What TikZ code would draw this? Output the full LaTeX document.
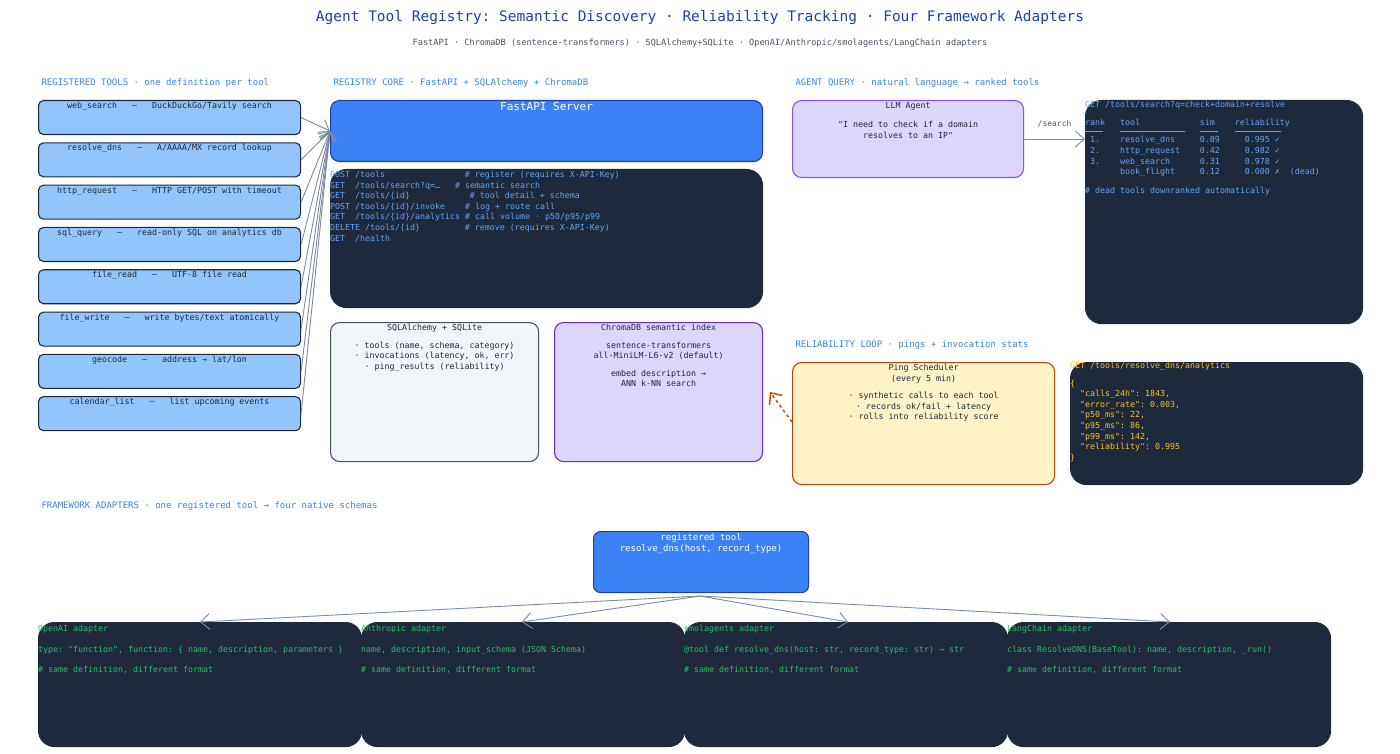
\documentclass[tikz,border=0pt]{standalone}
\usepackage{fontspec}
\setmonofont{DejaVu Sans Mono}
\usepackage{tikz}
\usetikzlibrary{positioning,arrows.meta}
\definecolor{ink}{HTML}{1E293B}
\definecolor{head}{HTML}{3B82F6}
\definecolor{navy}{HTML}{1E40AF}
\definecolor{toolfill}{HTML}{93C5FD}
\definecolor{coreblue}{HTML}{3B82F6}
\definecolor{lilac}{HTML}{DDD6FE}
\definecolor{violet}{HTML}{6D28D9}
\definecolor{slate}{HTML}{475569}
\definecolor{paper}{HTML}{F1F5F9}
\definecolor{cream}{HTML}{FEF3C7}
\definecolor{rust}{HTML}{C2410C}
\definecolor{codeblue}{HTML}{60A5FA}
\definecolor{amber}{HTML}{FBBF24}
\definecolor{mint}{HTML}{22C55E}
\definecolor{wire}{HTML}{7C8BA1}
\begin{document}
\begin{tikzpicture}[x=1pt,y=-1pt,font=\ttfamily\fontsize{8.3}{10.6}\selectfont,
                          box/.style={draw, rounded corners=9pt, line width=1.1pt, anchor=north west, inner sep=0pt},
                          toolnode/.style={box, fill=toolfill, draw=ink, rounded corners=5pt, minimum width=262pt, minimum height=34pt},
                          codebox/.style={box, fill=ink, draw=ink, rounded corners=16pt},
                          caption/.style={anchor=north, align=center, inner sep=2pt},
                          code/.style={anchor=north west, align=left, inner sep=0pt},
                          section/.style={anchor=west, text=head, font=\ttfamily\fontsize{9}{11}\selectfont},
                          link/.style={draw=wire, line width=0.9pt, -{Straight Barb[length=9pt,width=16pt]}},
                      ]
                      \useasboundingbox (0,0) rectangle (1400,754);
                      \fill[white] (0,0) rectangle (1400,754);
                      %Titles
                      \node[text=navy, font=\ttfamily\fontsize{14.5}{17}\selectfont] (title) at (700,18) {Agent Tool Registry: Semantic Discovery · Reliability Tracking · Four Framework Adapters};
                      \node[text=slate, font=\ttfamily\fontsize{8.6}{10}\selectfont] (subtitle) at (700,43) {FastAPI · ChromaDB (sentence-transformers) · SQLAlchemy+SQLite · OpenAI/Anthropic/smolagents/LangChain adapters};
                      \node[section] (sec_tools) at (38,83)  {REGISTERED TOOLS · one definition per tool};
                      \node[section] (sec_core)  at (330,83) {REGISTRY CORE · FastAPI + SQLAlchemy + ChromaDB};
                      \node[section] (sec_query) at (792,83) {AGENT QUERY · natural language → ranked tools};
                      \node[section] (sec_loop)  at (792,345) {RELIABILITY LOOP · pings + invocation stats};
                      \node[section] (sec_adapt) at (38,506) {FRAMEWORK ADAPTERS · one registered tool → four native schemas};

                      %Core
                      \node[box, fill=coreblue, draw=navy, minimum width=432pt, minimum height=61pt] (fastapi) at (330,100) {};
                      \node[caption, text=white, font=\ttfamily\fontsize{11}{13}\selectfont] at (fastapi.north) {FastAPI Server};
                      \node[codebox, minimum width=432pt, minimum height=138pt] (routes) at (330,169) {};
                      \node[code, text=codeblue] (routes_txt) at (330,171) {POST /tools\hspace{9.6em}\# register (requires X-API-Key)\\GET~~/tools/search?q=…~~~\# semantic search\\GET~~/tools/\{id\}\hspace{7.2em}\# tool detail + schema\\POST /tools/\{id\}/invoke~~~~\# log + route call\\GET~~/tools/\{id\}/analytics \# call volume · p50/p95/p99\\DELETE /tools/\{id\}\hspace{5.4em}\# remove (requires X-API-Key)\\GET~~/health};
                      \node[box, fill=paper, draw=slate, minimum width=208pt, minimum height=139pt] (sqlite) at (330,322) {};
                      \node[caption, text=ink] at (sqlite.north) {SQLAlchemy + SQLite\\[7pt]· tools (name, schema, category)\\· invocations (latency, ok, err)\\· ping\_results (reliability)};
                      \node[box, fill=lilac, draw=violet, minimum width=208pt, minimum height=139pt] (chroma) at (554,322) {};
                      \node[caption, text=ink] at (chroma.north) {ChromaDB semantic index\\[7pt]sentence-transformers\\all-MiniLM-L6-v2 (default)\\[7pt]embed description →\\ANN k-NN search};

                      %Tools
                      \foreach \name/\desc [count=\i from 0] in {web\_search/{DuckDuckGo/Tavily search}, resolve\_dns/{A/AAAA/MX record lookup}, http\_request/{HTTP GET/POST with timeout}, sql\_query/{read-only SQL on analytics db}, file\_read/{UTF-8 file read}, file\_write/{write bytes/text atomically}, geocode/{address → lat/lon}, calendar\_list/{list upcoming events}}{
                        \node[toolnode] (tool\i) at (38,{100+42.3*\i}) {};
                        \node[caption, text=ink] at (tool\i.north) {\name~~~–~~~\desc};
                        \draw[link] (tool\i.east) -- (fastapi.west);
                      }

                      %Agent query
                      \node[box, fill=lilac, draw=violet!80!white, minimum width=231pt, minimum height=77pt] (agent) at (792,100) {};
                      \node[caption, text=ink] at (agent.north) {LLM Agent\\[9pt]"I need to check if a domain\\resolves to an IP"};
                      \node[codebox, minimum width=277pt, minimum height=223pt] (results) at (1085,100) {};
                      \node[code, text=codeblue] (results_txt) at (1085,101) {GET /tools/search?q=check+domain+resolve\\[8pt]
                        \begin{tabular}{@{}l@{~~~}l@{~~~}l@{~~~}l@{}}
                        rank & tool & sim & reliability\\[-5pt]
                        \rule{2.1em}{0.8pt} & \rule{7.8em}{0.8pt} & \rule{2.2em}{0.8pt} & \rule{5.5em}{0.8pt}\\[1pt]
                        ~1. & resolve\_dns & 0.89 & ~~0.995 ✓\\
                        ~2. & http\_request & 0.42 & ~~0.982 ✓\\
                        ~3. & web\_search & 0.31 & ~~0.978 ✓\\
                            & book\_flight & 0.12 & ~~0.000 ✗~~(dead)
                        \end{tabular}\\[8pt]
                        \# dead tools downranked automatically};
                      \draw[link] (agent.east) -- node[above, text=slate, font=\ttfamily\fontsize{8}{9}\selectfont, yshift=8pt] {/search} (results.west |- agent.east);

                      %Reliability
                      \node[box, fill=cream, draw=rust, minimum width=262pt, minimum height=122pt] (ping) at (792,362) {};
                      \node[caption, text=ink] at (ping.north) {Ping Scheduler\\(every 5 min)\\[7pt]· synthetic calls to each tool\\· records ok/fail + latency\\· rolls into reliability score};
                      \node[codebox, minimum width=292pt, minimum height=122pt] (stats) at (1070,362) {};
                      \node[code, text=amber] (stats_txt) at (1070,362) {GET /tools/resolve\_dns/analytics\\[7pt]\{\\~~"calls\_24h": 1843,\\~~"error\_rate": 0.003,\\~~"p50\_ms": 22,\\~~"p95\_ms": 86,\\~~"p99\_ms": 142,\\~~"reliability": 0.995\\\}};
                      \coordinate (ping_out) at (792,422);
                      \draw[draw=rust, line width=1.4pt, dashed, -{Straight Barb[length=9pt,width=16pt]}] (ping_out) -- (770,392);

                      %Adapters
                      \node[box, fill=coreblue, draw=navy, rounded corners=7pt, minimum width=215pt, minimum height=61pt] (regtool) at (593,531) {};
                      \node[caption, text=white, font=\ttfamily\fontsize{9}{11}\selectfont] at (regtool.north) {registered tool\\resolve\_dns(host, record\_type)};
                      \coordinate (fan) at (700,596);
                      \foreach \title/\body/\xx/\tip [count=\i] in {
                        OpenAI adapter/{type: "function", function: \{ name, description, parameters \}}/38/200,
                        Anthropic adapter/{name, description, input\_schema (JSON Schema)}/361/522,
                        smolagents adapter/{@tool def resolve\_dns(host: str, record\_type: str) → str}/684/848,
                        LangChain adapter/{class ResolveDNS(BaseTool): name, description, \_run()}/1007/1170}{
                        \node[codebox, minimum width=323pt, minimum height=124pt] (adapter\i) at (\xx,622) {};
                        \node[code, text=mint] at (\xx,625) {\title\\[10pt]\body\\[10pt]\# same definition, different format};
                        \coordinate (adapter\i_in) at (\tip,622);
                        \draw[link] (fan) -- (adapter\i_in);
                      }
                  \end{tikzpicture}
\end{document}
